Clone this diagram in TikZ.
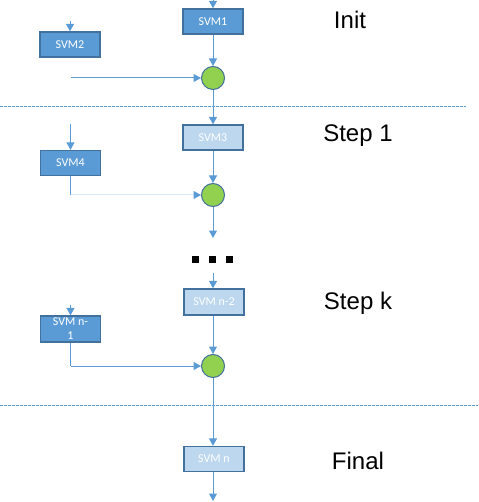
\documentclass[tikz,border=0pt]{standalone}
\usepackage{fontspec}
\setmainfont{Liberation Sans}
\newfontfamily\boxfont{Carlito}
\usetikzlibrary{arrows.meta}
\definecolor{dblue}{HTML}{5B9BD5}
\definecolor{lblue}{HTML}{BDD7EE}
\definecolor{edgeblue}{HTML}{41719C}
\definecolor{faintblue}{HTML}{DCE8F5}
\definecolor{lgreen}{HTML}{92D050}
\begin{document}
\begin{tikzpicture}[x=1pt,y=-1pt,
 svmdark/.style={draw=edgeblue, line width=1.3pt, fill=dblue, minimum width=60pt, minimum height=25pt, inner sep=0pt, text=white, font=\boxfont\fontsize{12}{14}\selectfont, align=center},
 svmlight/.style={svmdark, fill=lblue},
 junction/.style={circle, draw=edgeblue, line width=1pt, fill=lgreen, minimum size=23pt, inner sep=0pt},
 flow/.style={draw=dblue, line width=1pt, -{Triangle[width=8pt,length=7.5pt,color=dblue,fill=dblue]}},
 faintflow/.style={flow, draw=faintblue},
 sepline/.style={draw=dblue, line width=0.8pt, dash pattern=on 2.5pt off 1.5pt},
 steplabel/.style={font=\fontsize{24}{28}\selectfont},
 dotsq/.style={fill=black, minimum size=7pt, inner sep=0pt}
]
\useasboundingbox (0,0) rectangle (478,502);

% separators
\draw[sepline] (0,106) -- (466,106);
\draw[sepline] (0,405) -- (478,405);

% labels
\node[steplabel] (linit) at (350,20) {Init};
\node[steplabel] (lstep1) at (358,136) {Step 1};
\node[steplabel] (lstepk) at (358,303) {Step k};
\node[steplabel] (lfinal) at (358,461) {Final};

% boxes
\node[svmdark] (s1) at (213,21.5) {SVM1};
\node[svmdark] (s2) at (70,44.5) {SVM2};
\node[svmlight] (s3) at (213,137.5) {SVM3};
\node[svmdark] (s4) at (70.5,163) {SVM4};
\node[svmlight, minimum height=26pt] (sn2) at (214,302) {SVM n-2};
\node[svmdark, minimum height=26pt] (sn1) at (70.5,329) {SVM n-\\1};
\node[svmlight] (sn) at (214,459) {SVM n};

% junctions
\node[junction] (c1) at (213,78) {};
\node[junction] (c2) at (213,195) {};
\node[junction] (c3) at (213,366) {};

% dots
\node[dotsq] (d1) at (195.5,259.5) {};
\node[dotsq] (d2) at (212.5,259.5) {};
\node[dotsq] (d3) at (229.5,259.5) {};

% free ends
\coordinate (t1) at (213,0);
\coordinate (t2) at (70,21);
\coordinate (h1) at (71,78);
\coordinate (t4) at (70.5,124);
\coordinate (k2) at (70.5,195);
\coordinate (e2) at (213,238);
\coordinate (tn2) at (213,273);
\coordinate (tn1) at (70.5,305);
\coordinate (k3) at (70.5,366);
\coordinate (en) at (213,501);

% connectors
\draw[flow] (t1) -- (s1.north -| t1);
\draw[flow] (t2) -- (s2.north);
\draw[flow] (s1.south -| c1) -- (c1.north);
\draw[flow] (h1) -- (c1.west);
\draw[flow] (c1.south) -- (s3.north -| c1);
\draw[flow] (t4) -- (s4.north);
\draw[draw=dblue, line width=1pt] (s4.south) -- (k2);
\draw[faintflow] (k2) -- (c2.west);
\draw[flow] (s3.south -| c2) -- (c2.north);
\draw[flow] (c2.south) -- (e2);
\draw[flow] (tn2) -- (sn2.north -| tn2);
\draw[flow] (tn1) -- (sn1.north);
\draw[draw=dblue, line width=1pt] (sn1.south) -- (k3);
\draw[flow] (k3) -- (c3.west);
\draw[flow] (sn2.south -| c3) -- (c3.north);
\draw[flow] (c3.south) -- (sn.north -| c3);
\draw[flow] (sn.south -| c3) -- (en);
\end{tikzpicture}
\end{document}
